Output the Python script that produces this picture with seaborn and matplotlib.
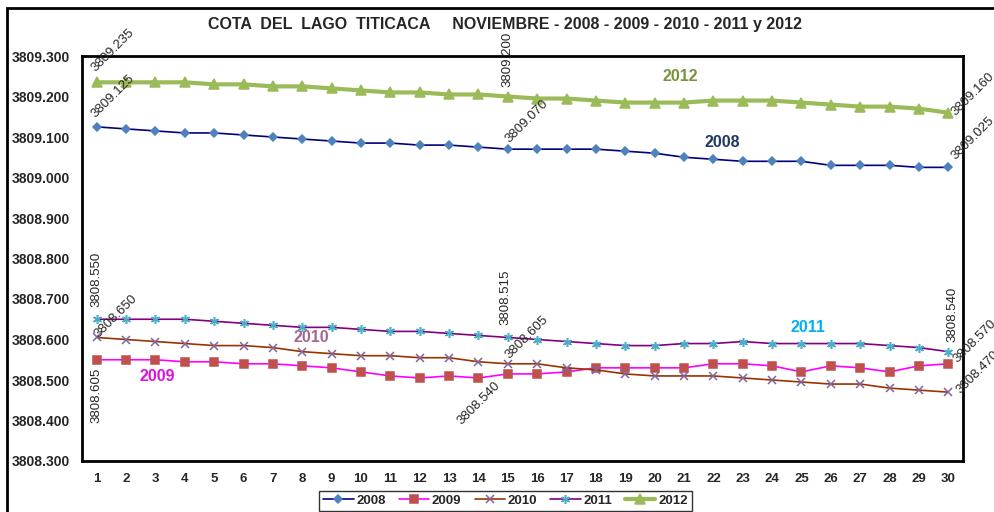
import numpy as np
import pandas as pd
import matplotlib
matplotlib.use("Agg")
from matplotlib import pyplot as plt
from matplotlib.patches import Rectangle
from matplotlib.ticker import FormatStrFormatter
import seaborn as sns

dias = list(range(1, 31))
cota_2008 = [3809.125, 3809.120, 3809.115, 3809.110, 3809.110, 3809.105, 3809.100, 3809.095, 3809.090, 3809.085,
             3809.085, 3809.080, 3809.080, 3809.075, 3809.070, 3809.070, 3809.070, 3809.070, 3809.065, 3809.060,
             3809.050, 3809.045, 3809.040, 3809.040, 3809.040, 3809.030, 3809.030, 3809.030, 3809.025, 3809.025]
cota_2009 = [3808.550, 3808.550, 3808.550, 3808.545, 3808.545, 3808.540, 3808.540, 3808.535, 3808.530, 3808.520,
             3808.510, 3808.505, 3808.510, 3808.505, 3808.515, 3808.515, 3808.520, 3808.530, 3808.530, 3808.530,
             3808.530, 3808.540, 3808.540, 3808.535, 3808.520, 3808.535, 3808.530, 3808.520, 3808.535, 3808.540]
cota_2010 = [3808.605, 3808.600, 3808.595, 3808.590, 3808.585, 3808.585, 3808.580, 3808.570, 3808.565, 3808.560,
             3808.560, 3808.555, 3808.555, 3808.545, 3808.540, 3808.540, 3808.530, 3808.525, 3808.515, 3808.510,
             3808.510, 3808.510, 3808.505, 3808.500, 3808.495, 3808.490, 3808.490, 3808.480, 3808.475, 3808.470]
cota_2011 = [3808.650, 3808.650, 3808.650, 3808.650, 3808.645, 3808.640, 3808.635, 3808.630, 3808.630, 3808.625,
             3808.620, 3808.620, 3808.615, 3808.610, 3808.605, 3808.600, 3808.595, 3808.590, 3808.585, 3808.585,
             3808.590, 3808.590, 3808.595, 3808.590, 3808.590, 3808.590, 3808.590, 3808.585, 3808.580, 3808.570]
cota_2012 = [3809.235, 3809.235, 3809.235, 3809.235, 3809.230, 3809.230, 3809.225, 3809.225, 3809.220, 3809.215,
             3809.210, 3809.210, 3809.205, 3809.205, 3809.200, 3809.195, 3809.195, 3809.190, 3809.185, 3809.185,
             3809.185, 3809.190, 3809.190, 3809.190, 3809.185, 3809.180, 3809.175, 3809.175, 3809.170, 3809.160]

anios = ["2008", "2009", "2010", "2011", "2012"]
series = [cota_2008, cota_2009, cota_2010, cota_2011, cota_2012]

# (line colour, marker, marker colour, marker size, line width)
estilos = {
    "2008": ("#000080", "D", "#4F81BD", 4, 1.2),
    "2009": ("#FF00FF", "s", "#C0504D", 5.5, 1.2),
    "2010": ("#993300", "x", "#8064A2", 5.5, 1.2),
    "2011": ("#800080", (6, 2, 0), "#4BACC6", 6.5, 1.2),
    "2012": ("#9BBB59", "^", "#9BBB59", 7, 3.0),
}

sns.set_style("white")
plt.rcParams["font.family"] = ["Liberation Sans", "DejaVu Sans"]

fig = plt.figure(figsize=(9.95, 5.12), dpi=100)
ax = fig.add_axes([82 / 995, 1 - 461 / 512, (963 - 82) / 995, (461 - 56) / 512])

for anio, valores in zip(anios, series):
    lc, mk, mc, ms, lw = estilos[anio]
    sns.lineplot(x=dias, y=valores, ax=ax, color=lc, linewidth=lw, marker=mk, markersize=ms,
                 markerfacecolor=mc, markeredgecolor=mc, markeredgewidth=1.1, label=anio)

ax.set_xlim(0.5, 30.5)
ax.set_ylim(3808.3, 3809.3)
ax.set_xticks(dias)
ax.set_yticks(np.arange(3808.3, 3809.31, 0.1))
ax.yaxis.set_major_formatter(FormatStrFormatter("%.3f"))
ax.tick_params(axis="both", length=0, labelsize=10)
ax.tick_params(axis="y", pad=9)
ax.tick_params(axis="x", pad=9, labelsize=9.5)
for lab in ax.get_xticklabels() + ax.get_yticklabels():
    lab.set_fontweight("bold")
ax.set_xlabel("")
ax.set_ylabel("")
for sp in ax.spines.values():
    sp.set_color("black")
    sp.set_linewidth(2)

# data labels: (serie, dia, dx, dy in points, rotation, ha, va)
etiquetas = [
    (cota_2012, 1, 1, 6, 45, "left", "bottom"),
    (cota_2008, 1, 1, 5, 45, "left", "bottom"),
    (cota_2012, 15, 0, 7, 90, "left", "center"),
    (cota_2008, 15, 3, 3, 45, "left", "bottom"),
    (cota_2012, 30, 7, -4, 45, "left", "bottom"),
    (cota_2008, 30, 7, 4, 45, "left", "bottom"),
    (cota_2009, 1, 0, 38, 90, "left", "center"),
    (cota_2011, 1, 3, -15, 45, "left", "bottom"),
    (cota_2010, 1, 0, -22, 90, "right", "center"),
    (cota_2009, 15, -2, 35, 90, "left", "center"),
    (cota_2011, 15, 3, -17, 45, "left", "bottom"),
    (cota_2010, 15, -10, -11, 45, "right", "top"),
    (cota_2009, 30, 3, 16, 90, "left", "center"),
    (cota_2011, 30, 8, -10, 45, "left", "bottom"),
    (cota_2010, 30, 10, -3, 45, "left", "bottom"),
]
for serie, dia, dx, dy, rot, ha, va in etiquetas:
    v = serie[dia - 1]
    ax.annotate(f"{v:.3f}", xy=(dia, v), xytext=(dx, dy), textcoords="offset points",
                rotation=rot, rotation_mode="anchor", ha=ha, va=va, fontsize=9.5,
                annotation_clip=False)

# series names inside the plot
nombres = [("2012", 20.86, 3809.250, "#77933C"), ("2008", 22.29, 3809.087, "#1F3864"),
           ("2011", 25.22, 3808.629, "#00B0F0"), ("2010", 8.30, 3808.604, "#A0688F"),
           ("2009", 3.05, 3808.508, "#E010E0")]
for nombre, xn, yn, cn in nombres:
    ax.text(xn, yn, nombre, color=cn, fontsize=11.5, fontweight="bold", ha="center", va="center")

fig.text(0.508, 1 - 25 / 512, "COTA  DEL  LAGO  TITICACA     NOVIEMBRE - 2008 - 2009 - 2010 - 2011 y 2012",
         ha="center", va="center", fontsize=11.5, fontweight="bold")

leg = ax.legend(loc="lower center", bbox_to_anchor=(0.508, 0.0), bbox_transform=fig.transFigure, ncol=5,
                frameon=True, fancybox=False, prop={"weight": "bold", "size": 9.5}, handlelength=2.3,
                columnspacing=1.0, handletextpad=0.2, borderpad=0.3, borderaxespad=0.1)
leg.get_frame().set_edgecolor("black")
leg.get_frame().set_linewidth(1)

fig.patches.append(Rectangle((7 / 995, -0.1), 1.2, 1 - 8 / 512 + 0.1, transform=fig.transFigure,
                             fill=False, edgecolor="black", linewidth=2))

fig.savefig("out.png", dpi=100)
